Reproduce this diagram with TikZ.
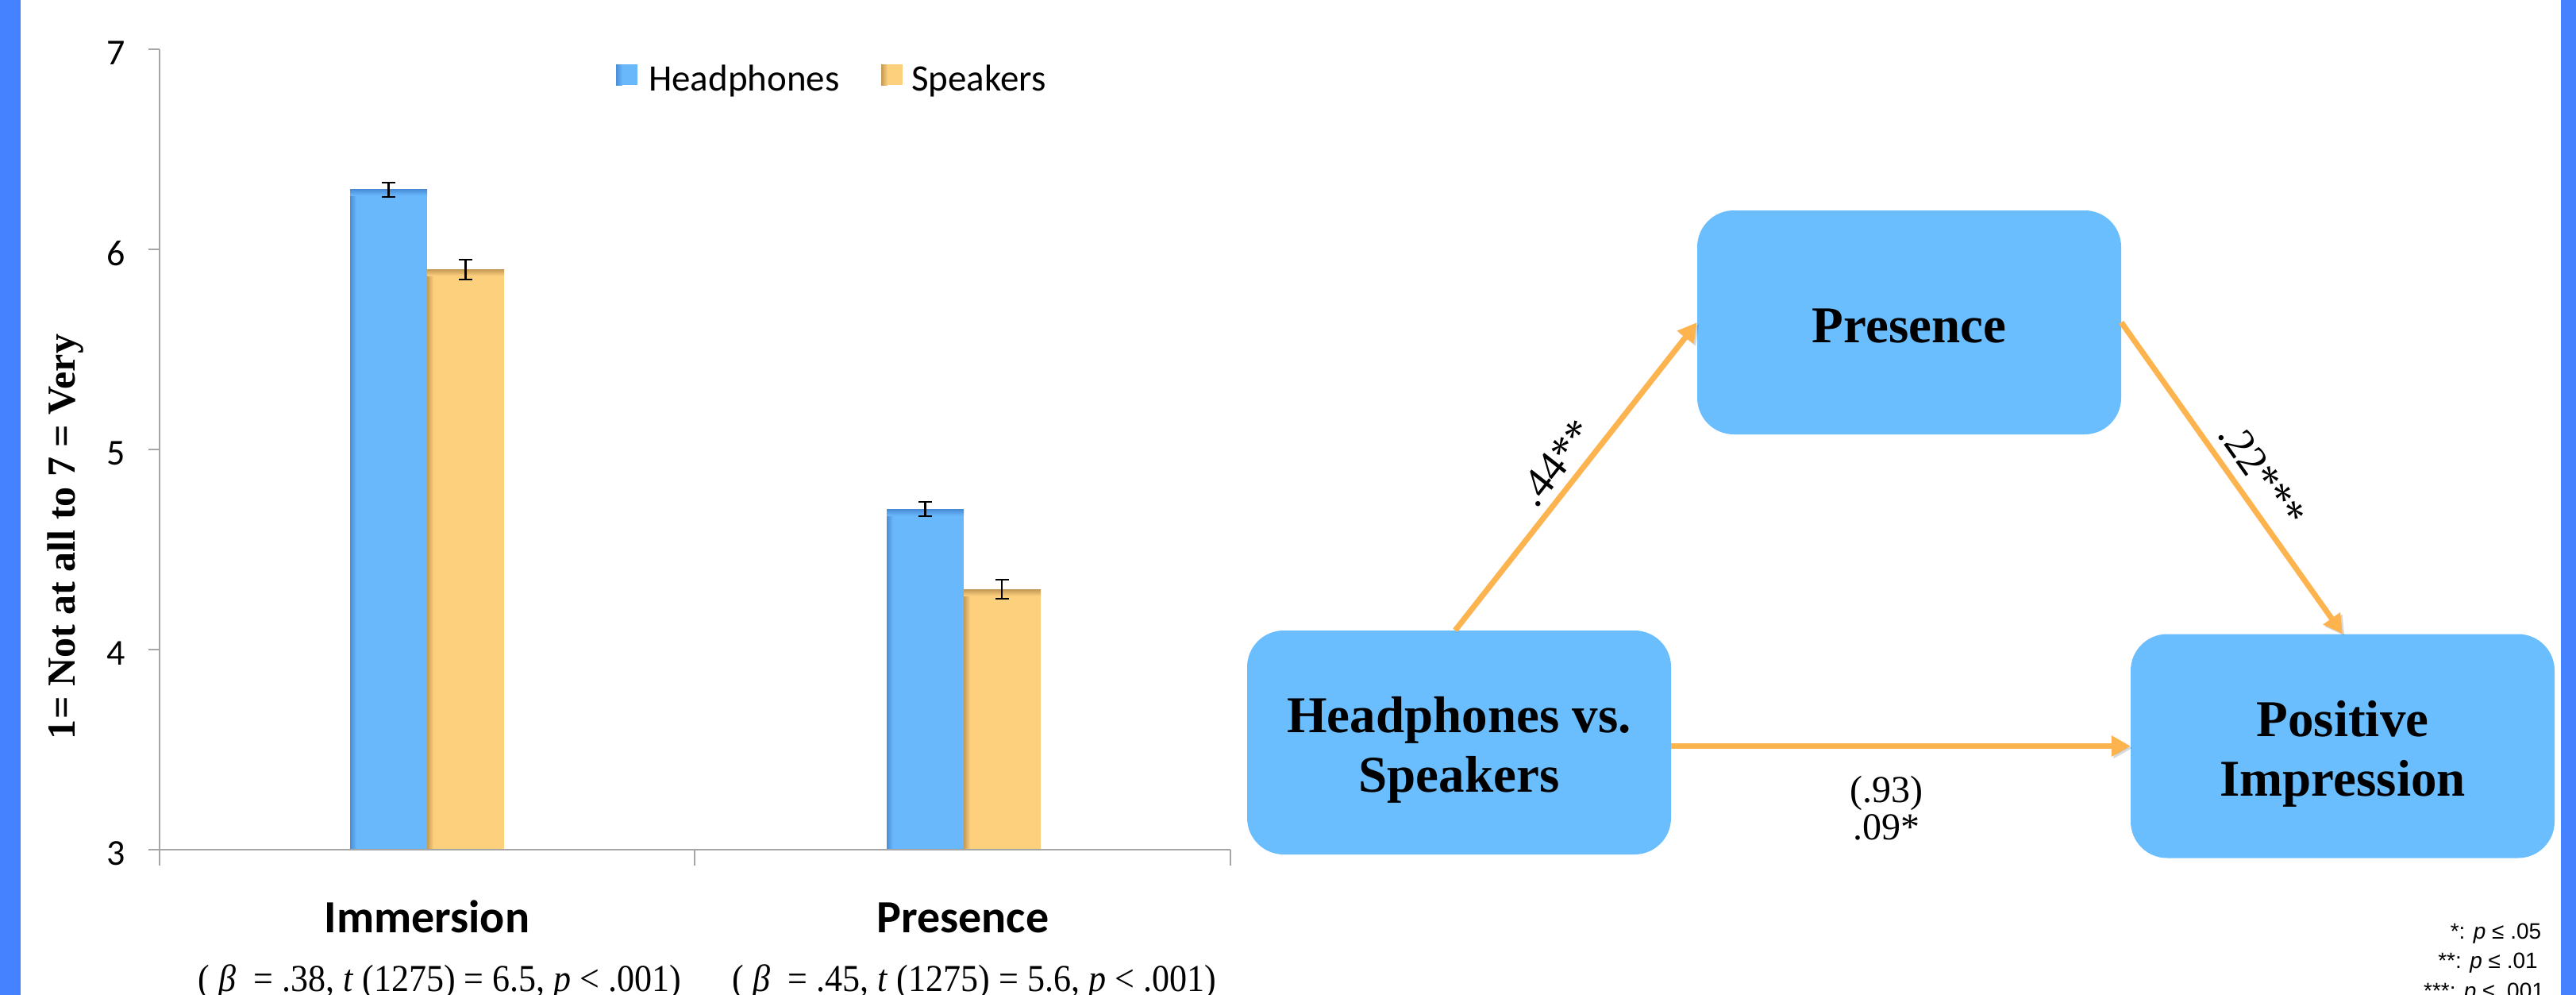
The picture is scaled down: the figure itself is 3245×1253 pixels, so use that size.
\documentclass[tikz,border=0pt]{standalone}
\usepackage{fontspec}
\usepackage{graphicx}
\setmainfont{Liberation Serif}
\newfontfamily\chartfont{Carlito}
\newfontfamily\notefont{Liberation Sans}
\usetikzlibrary{arrows.meta}

\definecolor{sidebar}{HTML}{4482FF}
\definecolor{hpfill}{HTML}{69B8FC}
\definecolor{hpdark}{HTML}{4A8ED8}
\definecolor{spfill}{HTML}{FDD07E}
\definecolor{spdark}{HTML}{C39A56}
\definecolor{boxfill}{HTML}{6BBEFE}
\definecolor{arrowc}{HTML}{FDB44F}
\definecolor{axisgray}{HTML}{A6A6A6}

\begin{document}
\begin{tikzpicture}[x=1pt,y=-1pt,
  axisline/.style={draw=axisgray,line width=2pt},
  errline/.style={draw=black,line width=2.2pt},
  ticklab/.style={font=\chartfont\fontsize{46}{50}\selectfont,anchor=east,inner sep=0pt},
  legendlab/.style={font=\chartfont\fontsize{47}{50}\selectfont,anchor=base west,inner sep=0pt},
  catlab/.style={font=\chartfont\bfseries\fontsize{58}{62}\selectfont,anchor=base,inner sep=0pt},
  statlab/.style={font=\fontsize{48}{52}\selectfont,anchor=base,inner sep=0pt},
  box/.style={fill=boxfill,rounded corners=46pt,minimum width=534pt,minimum height=282pt,inner sep=0pt},
  boxtext/.style={font=\bfseries\fontsize{65}{75}\selectfont,align=center,inner sep=0pt},
  link/.style={draw=arrowc,line width=7pt,-{Triangle[length=24pt,width=25pt]},
    preaction={draw=black,opacity=0.15,transform canvas={xshift=2.5pt,yshift=-2.5pt}}},
  coef/.style={font=\fontsize{54}{58}\selectfont,inner sep=0pt},
  sumlab/.style={font=\fontsize{48}{52}\selectfont,inner sep=0pt,anchor=base},
  notelab/.style={font=\notefont\fontsize{28}{32}\selectfont,anchor=base,inner sep=0pt},
  pics/ebar/.style={code={
    \draw[errline] (-8.5,-#1) -- (8.5,-#1) (0,-#1) -- (0,#1) (-8.5,#1) -- (8.5,#1);}}
]
\useasboundingbox (0,0) rectangle (3245,1253);
\fill[white] (0,0) rectangle (3245,1253);

% side bars
\fill[sidebar] (0,0) rectangle (26,1253);
\fill[sidebar] (3226,0) rectangle (3245,1253);

% ---------- bar chart ----------
% bars: left x / value / fill / edge shade
\foreach \xl/\v/\fc/\dc in {441/6.3/hpfill/hpdark, 538/5.9/spfill/spdark,
                             1117/4.7/hpfill/hpdark, 1214/4.3/spfill/spdark}{
  \pgfmathsetmacro\yt{1070-(\v-3)*252}
  \fill[\fc] (\xl,\yt) rectangle (\xl+97,1070);
  \shade[left color=\dc, right color=\fc] (\xl,\yt) rectangle (\xl+8,1070);
  \shade[top color=\dc, bottom color=\fc] (\xl,\yt) rectangle (\xl+97,\yt+8);
}

% error bars
\pic at (489.5,239) {ebar=9};
\pic at (586.5,339.5) {ebar=12.5};
\pic at (1165.5,641) {ebar=9};
\pic at (1262,742) {ebar=12};

% axes
\draw[axisline] (201,62) -- (201,1090);
\draw[axisline] (187,1070) -- (1550,1070);
\foreach \yy in {62,314,566,818}{\draw[axisline] (187,\yy) -- (201,\yy);}
\draw[axisline] (875,1070) -- (875,1090);
\draw[axisline] (1550,1070) -- (1550,1090);

% tick labels
\node[ticklab] (t7) at (158,67) {7};
\node[ticklab] (t6) at (158,319) {6};
\node[ticklab] (t5) at (158,571) {5};
\node[ticklab] (t4) at (158,823) {4};
\node[ticklab] (t3) at (158,1075) {3};

% axis title
\node[font=\bfseries\fontsize{50}{54}\selectfont,rotate=90,anchor=base,inner sep=0pt]
  (ytitle) at (94,676) {\resizebox{510pt}{\height}{1= Not at all to 7 = Very}};

% legend
\fill[hpfill] (776,81) rectangle (803,107);
\shade[left color=hpdark, right color=hpfill] (776,81) rectangle (784,107);
\node[legendlab] (lhp) at (817,114) {Headphones};
\fill[spfill] (1110,81) rectangle (1137,107);
\shade[left color=spdark, right color=spfill] (1110,81) rectangle (1118,107);
\node[legendlab] (lsp) at (1148,114) {Speakers};

% category labels and statistics
\node[catlab] (cimm) at (538,1174) {Immersion};
\node[catlab] (cpres) at (1213,1174) {Presence};
\node[statlab] (simm) at (554,1248)
  {\resizebox{608pt}{\height}{( \textit{β}\ \ = .38, \textit{t} (1275) = 6.5, \textit{p} < .001)}};
\node[statlab] (spres) at (1227.5,1248)
  {\resizebox{609pt}{\height}{( \textit{β}\ \ = .45, \textit{t} (1275) = 5.6, \textit{p} < .001)}};

% ---------- mediation model ----------
\node[box] (pres) at (2405,406) {};
\node[box] (hp) at (1838,935) {};
\node[box] (pi) at (2951,939.5) {};

\node[boxtext,yshift=-5pt] (presT) at (pres.center) {Presence};
\node[boxtext,yshift=-9.5pt] (hpT) at (hp.center) {Headphones vs.\\Speakers};
\node[boxtext,yshift=-9.5pt] (piT) at (pi.center) {Positive\\Impression};

\draw[link] ([xshift=-5pt]hp.north) -- node[coef,sloped,pos=0.495,anchor=south,inner sep=9pt] (c1) {.44**} (pres.west);
\draw[link] (pres.east) -- node[coef,sloped,pos=0.538,anchor=south,inner sep=12pt] (c2) {.22***} (pi.north);
\draw[link] (hp.east |- pi.west) -- (pi.west);

\node[sumlab] (c3a) at (2376,1010) {(.93)};
\node[sumlab] (c3b) at (2376,1057) {.09*};

% significance key
\node[notelab] (n1) at (3144,1182) {*: \textit{p} ≤ .05};
\node[notelab] (n2) at (3134,1219) {**: \textit{p} ≤ .01};
\node[notelab] (n3) at (3129,1257) {***: \textit{p} ≤ .001};
\end{tikzpicture}
\end{document}
